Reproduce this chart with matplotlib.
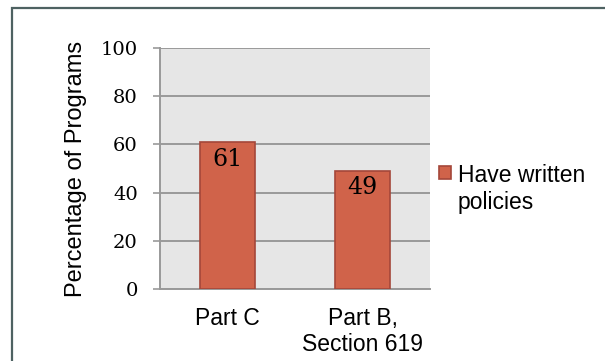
import matplotlib.pyplot as plt
from matplotlib.patches import Rectangle
from matplotlib.legend_handler import HandlerPatch

categories = ["Part C", "Part B,\nSection 619"]
values = [61, 49]
series_name = "Have written\npolicies"
yticks = [0, 20, 40, 60, 80, 100]

bar_color = "#D0634A"
edge_color = "#A4473A"

fig = plt.figure(figsize=(6.05, 3.61), dpi=100)
ax = fig.add_axes([160 / 605, 1 - 289 / 361, 270 / 605, 241 / 361])

# outer frame (runs off the right and bottom edges)
fig.patches.append(Rectangle((12 / 605, -0.1), 1.2, 1 - 8 / 361 + 0.1,
                             transform=fig.transFigure, fill=False,
                             edgecolor="#4E6262", linewidth=1.6))

ax.set_facecolor("#E6E6E6")
x = range(len(categories))
bars = ax.bar(x, values, width=0.41, color=bar_color, edgecolor=edge_color,
              linewidth=1.2, label=series_name, zorder=3)

for b, v in zip(bars, values):
    ax.text(b.get_x() + b.get_width() / 2, v - 2.3, str(v), ha="center", va="top",
            fontsize=17, family="DejaVu Serif", zorder=4)

ax.set_xlim(-0.5, 1.5)
ax.set_ylim(0, 100)
ax.set_yticks(yticks)
ax.set_yticklabels([str(t) for t in yticks], family="DejaVu Serif", fontsize=14)
ax.set_xticks(list(x))
ax.set_xticklabels(categories, family="Liberation Sans", fontsize=16.5, linespacing=1.15)
ax.tick_params(axis="x", length=0, pad=13)
ax.tick_params(axis="y", length=5, width=1.2, color="#999999", pad=11)

ax.grid(axis="y", color="#999999", linewidth=1.4, zorder=1)
for s in ["top", "right"]:
    ax.spines[s].set_visible(False)
ax.spines["left"].set_color("#999999")
ax.spines["left"].set_linewidth(1.4)
ax.spines["bottom"].set_color("#999999")
ax.spines["bottom"].set_linewidth(1.4)

ax.set_ylabel("Percentage of Programs", family="Liberation Sans", fontsize=17, labelpad=10)


# put the legend square next to the first line of the label
def top_square(legend, orig_handle, xdescent, ydescent, width, height, fontsize):
    return Rectangle((-xdescent, -ydescent + 0.75 * fontsize), width, height)


leg = ax.legend([bars.patches[0]], [series_name],
                loc="upper left", bbox_to_anchor=(1.0, 0.555), frameon=False,
                prop={"family": "Liberation Sans", "size": 16.5},
                handlelength=0.5, handleheight=0.5, handletextpad=0.3,
                borderaxespad=0,
                handler_map={Rectangle: HandlerPatch(patch_func=top_square)})
for t in leg.get_texts():
    t.set_linespacing(1.2)

fig.savefig("out.png", dpi=100, facecolor="white")
